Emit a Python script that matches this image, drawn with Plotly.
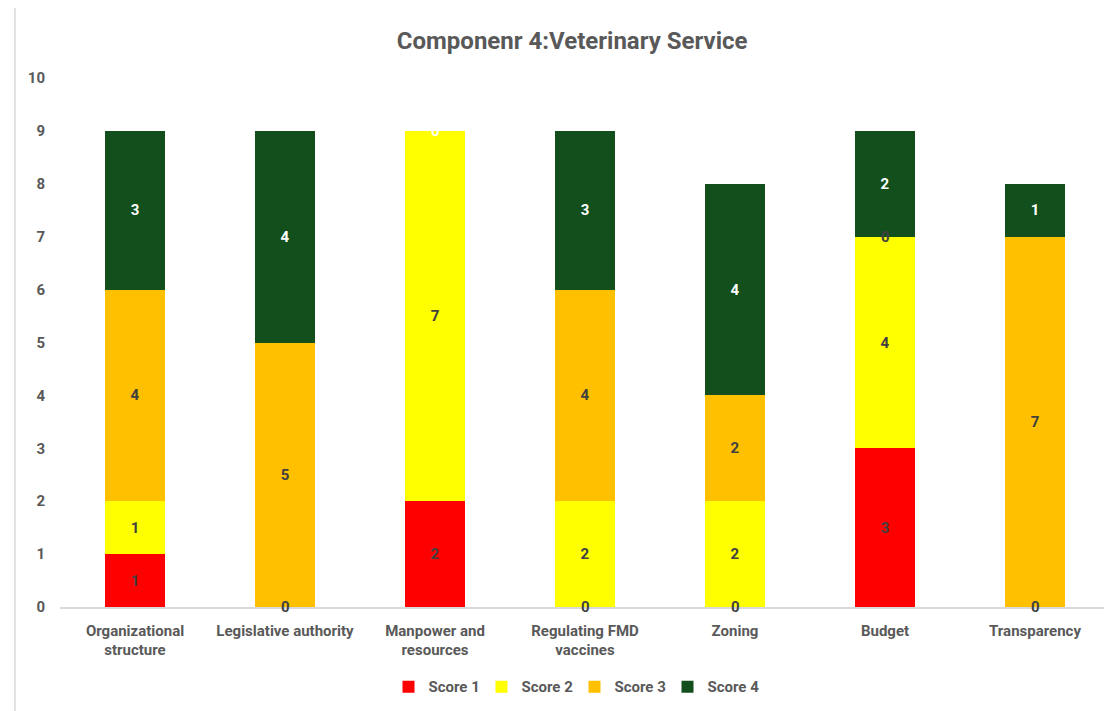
import plotly.graph_objects as go

categories = ["Organizational<br>structure", "Legislative authority", "Manpower and<br>resources",
              "Regulating FMD<br>vaccines", "Zoning", "Budget", "Transparency"]
series_names = ["Score 1", "Score 2", "Score 3", "Score 4"]
score1 = [1, 0, 2, 0, 0, 3, 0]
score2 = [1, None, 7, 2, 2, 4, None]
score3 = [4, 5, None, 4, 2, 0, 7]
score4 = [3, 4, 0, 3, 4, 2, 1]
colors = ["#FF0000", "#FFFF00", "#FFC000", "#124F1C"]
label_colors = ["#404040", "#404040", "#404040", "#FFFFFF"]

FONT = "Roboto"
fig = go.Figure()
all_series = [score1, score2, score3, score4]
base = [0] * len(categories)
annotations = []
for name, vals, col, lc in zip(series_names, all_series, colors, label_colors):
    yv = [v if v is not None else 0 for v in vals]
    fig.add_trace(go.Bar(
        name=name, x=categories, y=yv, marker=dict(color=col, line=dict(width=0)),
        text=[str(v) if v else "" for v in yv], textposition="inside",
        insidetextanchor="middle", textangle=0,
        textfont=dict(family=FONT, size=15, color=lc, weight="bold"),
        hoverinfo="x+y+name",
    ))
    for i, v in enumerate(vals):
        if v == 0:
            annotations.append(dict(x=categories[i], y=base[i], xref="x", yref="y",
                                    text="0", showarrow=False,
                                    font=dict(family=FONT, size=15, color=lc, weight="bold")))
    base = [b + y for b, y in zip(base, yv)]

fig.update_layout(
    barmode="stack", bargap=0.6,
    width=1104, height=703,
    margin=dict(l=52, r=2, t=70, b=104),
    paper_bgcolor="white", plot_bgcolor="white",
    title=dict(text="Componenr 4:Veterinary Service", x=0.511, xanchor="center", y=0.954, yanchor="middle",
               font=dict(family=FONT, size=24, color="#595959", weight="bold")),
    font=dict(family=FONT, color="#595959"),
    showlegend=True,
    legend=dict(orientation="h", x=0.49, xanchor="center", y=-0.151, yanchor="middle",
                font=dict(family=FONT, size=15, color="#595959", weight="bold"),
                traceorder="normal", itemwidth=30, entrywidth=48, entrywidthmode="pixels"),
    annotations=annotations,
    shapes=[dict(type="line", xref="paper", yref="paper", x0=-0.0429, x1=-0.0429, y0=-0.3, y1=1.3,
                 line=dict(color="#D9D9D9", width=1.5))],
)
fig.update_xaxes(showline=True, linecolor="#D9D9D9", linewidth=1.5, showgrid=False,
                 tickfont=dict(family=FONT, size=15, color="#595959", weight="bold"), ticks="",
                 ticklabelstandoff=9)
fig.update_yaxes(range=[0, 10], dtick=1, showgrid=False, zeroline=False, showline=False,
                 tickfont=dict(family=FONT, size=15, color="#595959", weight="bold"),
                 ticklabelstandoff=14)

fig.write_html("out.html")
